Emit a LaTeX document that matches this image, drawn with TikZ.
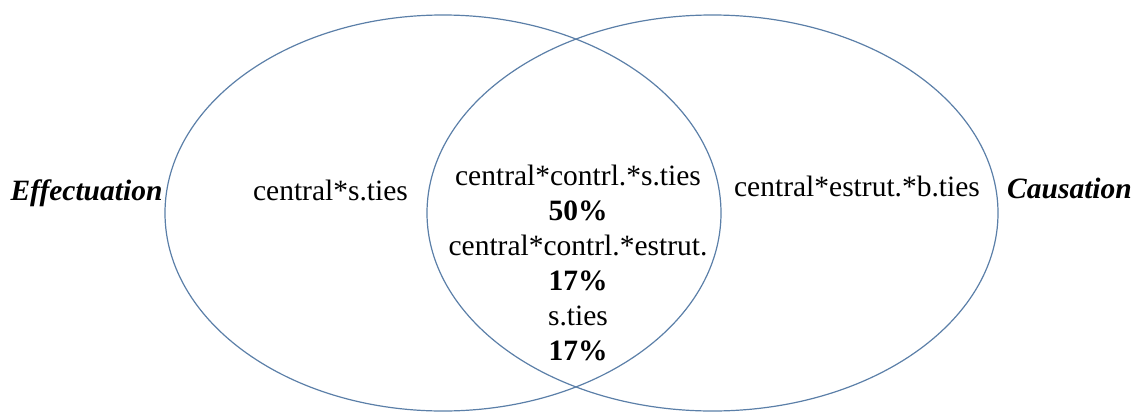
\documentclass[tikz,border=0pt]{standalone}
\usepackage{fontspec}
\setmainfont{Liberation Serif}
\definecolor{vline}{RGB}{91,127,168}
\begin{document}
\begin{tikzpicture}[x=1pt,y=-1pt,
  lbl/.style={font=\fontsize{29.5}{35}\selectfont, inner sep=0pt, anchor=base},
  pct/.style={lbl, font=\fontsize{29.5}{35}\selectfont\bfseries},
  side/.style={lbl, font=\fontsize{29.5}{35}\selectfont\bfseries\itshape},
  ring/.style={draw=vline, line width=1.2pt}]
\useasboundingbox (0,0) rectangle (1135,413);
\draw[ring] (443,213) ellipse [x radius=278pt, y radius=198pt];
\draw[ring] (712.5,213) ellipse [x radius=285.5pt, y radius=198pt];
\node[side] (eff) at (86.5,200) {Effectuation};
\node[side] (cau) at (1069.5,198) {Causation};
\node[lbl] (left) at (330.5,200) {central*s.ties};
\node[lbl] (right) at (857,196) {central*estrut.*b.ties};
\node[lbl] (m1) at (578,185) {central*contrl.*s.ties};
\node[pct] (m2) at (578,220) {50\%};
\node[lbl] (m3) at (578,255) {central*contrl.*estrut.};
\node[pct] (m4) at (578,290) {17\%};
\node[lbl] (m5) at (578,325) {s.ties};
\node[pct] (m6) at (578,360) {17\%};
\end{tikzpicture}
\end{document}
